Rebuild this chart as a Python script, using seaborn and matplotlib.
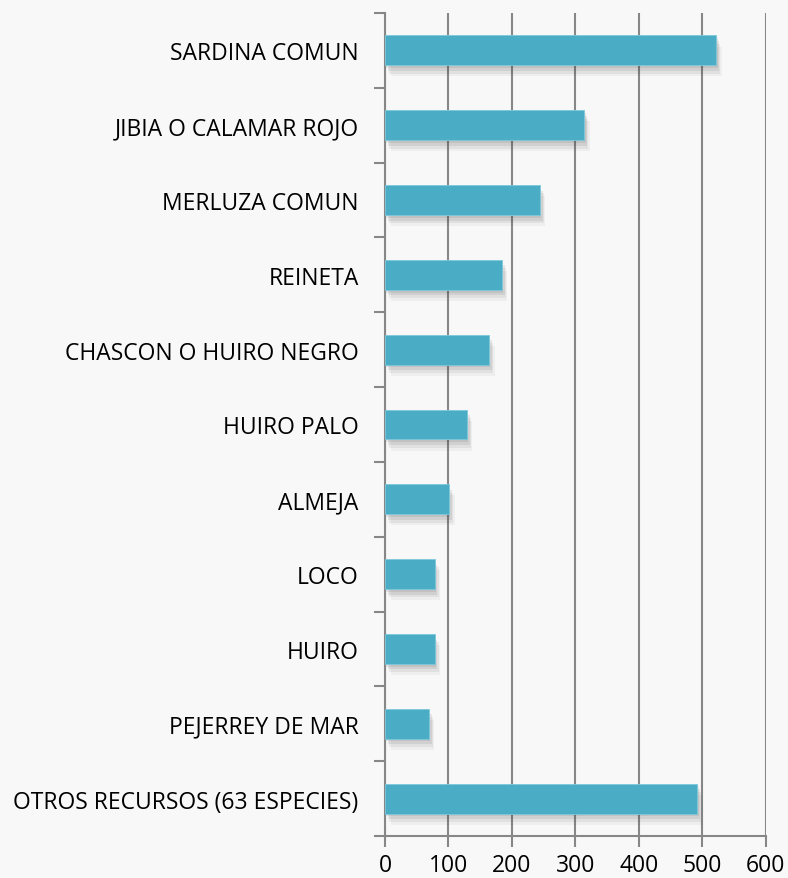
import numpy as np
import pandas as pd
import matplotlib
matplotlib.use('Agg')
import matplotlib.pyplot as plt
import matplotlib.patheffects as pe
from matplotlib.ticker import FixedLocator
import seaborn as sns

# species and landings
species = ['SARDINA COMUN', 'JIBIA O CALAMAR ROJO', 'MERLUZA COMUN', 'REINETA',
           'CHASCON O HUIRO NEGRO', 'HUIRO PALO', 'ALMEJA', 'LOCO', 'HUIRO',
           'PEJERREY DE MAR', 'OTROS RECURSOS (63 ESPECIES)']
values = [522, 314, 244, 184, 164, 129, 101, 78, 78, 69, 492]
x_ticks = [0, 100, 200, 300, 400, 500, 600]

df = pd.DataFrame({'especie': species, 'valor': values})

sns.set_style('white')
plt.rcParams['font.family'] = ['Open Sans', 'DejaVu Sans']

bg = '#f8f8f8'
grid_col = '#878787'

fig = plt.figure(figsize=(7.88, 8.79), dpi=100, facecolor=bg)
ax = fig.add_axes([0.4886, 0.0478, 0.4831, 0.9363], facecolor=bg)

sns.barplot(data=df, x='valor', y='especie', color='#4bacc6', saturation=1,
            width=0.4, ax=ax, zorder=3)

# soft drop shadow under the bars (a few faint layers to fake a blur)
shadow = [pe.SimplePatchShadow(offset=(dx, dy), shadow_rgbFace='#404040', alpha=a)
          for dx, dy, a in [(1, -2, 0.10), (2, -4, 0.10), (3, -6, 0.08), (4, -8, 0.05)]]
for p in ax.patches:
    p.set_path_effects(shadow + [pe.Normal()])
    p.set_edgecolor('#7cc8db')
    p.set_linewidth(0.6)

ax.set_xlim(0, 600)
ax.set_ylim(len(species) - 0.5, -0.5)
ax.set_xticks(x_ticks)
ax.xaxis.grid(True, color=grid_col, linewidth=1.5, zorder=0)
ax.set_axisbelow(True)

# category boundary ticks on the y axis
ax.yaxis.set_minor_locator(FixedLocator(np.arange(-0.5, len(species), 1.0)))
ax.tick_params(axis='y', which='major', length=0, pad=19, labelsize=16.5, labelcolor='black')
ax.tick_params(axis='y', which='minor', length=8, width=1.5, color=grid_col, left=True)
ax.tick_params(axis='x', which='major', length=8, width=1.5, color=grid_col, bottom=True,
               labelsize=16.5, labelcolor='black', pad=4)

for s in ['top', 'right']:
    ax.spines[s].set_visible(False)
for s in ['left', 'bottom']:
    ax.spines[s].set_color(grid_col)
    ax.spines[s].set_linewidth(1.5)

ax.set_xlabel('')
ax.set_ylabel('')

fig.savefig('out.png', dpi=100, facecolor=bg)
